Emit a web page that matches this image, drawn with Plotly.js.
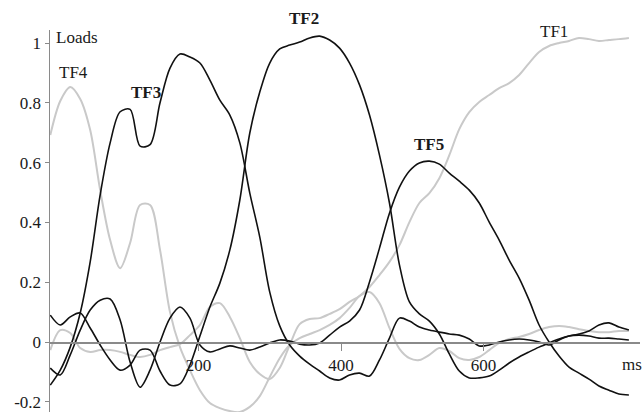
<!DOCTYPE html>
<html><head><meta charset="utf-8">
<script src="https://cdn.plot.ly/plotly-3.0.1.min.js"></script>
<style>html,body{margin:0;padding:0;background:#fff}</style>
</head><body><div id="chart" style="width:643px;height:415px"></div>
<script>
// Time (ms)
const ms = [-8, 6, 20, 34, 48, 62, 76, 90, 104, 118, 132, 146, 160, 174, 188, 202, 216, 230, 244, 258,
  272, 286, 300, 314, 328, 342, 356, 370, 384, 398, 412, 426, 440, 454, 468, 482, 496, 510, 524, 538,
  552, 566, 580, 594, 608, 622, 636, 650, 664, 678, 692, 706, 720, 734, 748, 762, 776, 790, 804];

// Factor loadings
const tf1 = [-0.027, 0.040, 0.030, -0.020, -0.033, -0.027, -0.027, -0.033, -0.043, -0.050,
  -0.043, -0.027, -0.017, -0.007, 0.023, 0.057, 0.117, 0.130, 0.084, 0.013,
  -0.067, -0.107, -0.124, -0.087, -0.010, 0.060, 0.077, 0.080, 0.094, 0.110,
  0.134, 0.154, 0.184, 0.224, 0.268, 0.324, 0.401, 0.465, 0.498, 0.548,
  0.625, 0.712, 0.769, 0.803, 0.826, 0.849, 0.866, 0.893, 0.933, 0.970,
  0.990, 1.000, 1.007, 1.017, 1.013, 1.007, 1.010, 1.013, 1.017];

const tf2 = [0.090, 0.057, 0.084, 0.097, 0.047, -0.010, -0.060, -0.094, -0.077, -0.027,
  -0.027, -0.097, -0.144, -0.140, -0.077, 0.020, 0.117, 0.197, 0.308, 0.475,
  0.699, 0.836, 0.933, 0.980, 0.993, 1.003, 1.017, 1.023, 1.010, 0.983,
  0.933, 0.860, 0.759, 0.625, 0.465, 0.258, 0.134, 0.094, 0.070, 0.027,
  -0.040, -0.097, -0.120, -0.120, -0.114, -0.094, -0.070, -0.050, -0.033, -0.017,
  -0.003, 0.010, 0.020, 0.027, 0.037, 0.057, 0.064, 0.050, 0.040];

const tf3 = [-0.144, -0.094, -0.017, 0.097, 0.268, 0.492, 0.666, 0.770, 0.778, 0.655,
  0.660, 0.800, 0.916, 0.963, 0.953, 0.933, 0.876, 0.809, 0.759, 0.666,
  0.498, 0.351, 0.167, 0.054, -0.010, -0.047, -0.074, -0.097, -0.120, -0.127,
  -0.110, -0.104, -0.114, -0.060, 0.013, 0.080, 0.070, 0.050, 0.040, 0.033,
  0.027, 0.023, 0.010, -0.013, -0.010, 0.000, 0.007, 0.010, 0.007, 0.000,
  -0.010, 0.007, 0.020, 0.023, 0.020, 0.013, 0.013, 0.010, 0.007];

const tf4 = [0.692, 0.806, 0.853, 0.813, 0.709, 0.508, 0.341, 0.247, 0.331, 0.458,
  0.458, 0.308, 0.100, -0.017, -0.094, -0.161, -0.204, -0.221, -0.231, -0.234,
  -0.217, -0.181, -0.117, -0.054, -0.010, 0.013, 0.027, 0.040, 0.057, 0.080,
  0.114, 0.154, 0.167, 0.130, 0.047, -0.023, -0.054, -0.060, -0.043, -0.020,
  -0.030, -0.054, -0.060, -0.050, -0.027, -0.003, 0.010, 0.017, 0.027, 0.040,
  0.050, 0.054, 0.050, 0.043, 0.037, 0.033, 0.033, 0.037, 0.037];

const tf5 = [-0.087, -0.110, -0.043, 0.040, 0.107, 0.140, 0.144, 0.074, -0.067, -0.151,
  -0.094, 0.000, 0.080, 0.117, 0.080, -0.010, -0.033, -0.023, -0.013, -0.020,
  -0.027, -0.017, -0.003, 0.007, 0.003, -0.007, -0.010, -0.003, 0.023, 0.050,
  0.070, 0.107, 0.201, 0.314, 0.431, 0.518, 0.572, 0.599, 0.605, 0.595,
  0.565, 0.538, 0.508, 0.465, 0.401, 0.341, 0.274, 0.214, 0.140, 0.057,
  0.000, -0.047, -0.084, -0.104, -0.124, -0.147, -0.161, -0.174, -0.177];

const yTicks = [-0.2, 0, 0.2, 0.4, 0.6, 0.8, 1];
const yTickText = ['-0.2', '0', '0.2', '0.4', '0.6', '0.8', '1'];
const xTicks = [200, 400, 600];

const GRAY = '#c9c9c9', BLACK = '#111111';
const FONT = '"Liberation Serif", serif';
function tr(y, color, w) {
  return {x: ms, y: y, type: 'scatter', mode: 'lines',
    line: {color: color, width: w, shape: 'spline', smoothing: 0.9}, hoverinfo: 'skip'};
}
const data = [tr(tf1, GRAY, 2), tr(tf4, GRAY, 2), tr(tf2, BLACK, 1.6), tr(tf3, BLACK, 1.6), tr(tf5, BLACK, 1.6)];

const yMin = -0.234, yMax = 1.0435;
function ann(x, y, text, bold, xa, yref) {
  return {x: x, y: y, xref: 'x', yref: yref || 'y', text: bold ? '<b>' + text + '</b>' : text,
    showarrow: false, xanchor: xa || 'center', yanchor: 'middle',
    font: {family: FONT, size: 17, color: '#1a1a1a'}};
}
const layout = {
  width: 643, height: 415,
  margin: {l: 50, r: 3, t: 30, b: 3},
  paper_bgcolor: '#fff', plot_bgcolor: '#fff',
  showlegend: false,
  font: {family: FONT, size: 17, color: '#1a1a1a'},
  xaxis: {range: [-8.4, 819.6], anchor: 'free', position: (0 - yMin) / (yMax - yMin),
    showline: true, linecolor: '#8a8a8a', linewidth: 1.5,
    ticks: 'outside', ticklen: 7, tickcolor: '#8a8a8a', tickwidth: 1,
    tickvals: xTicks, showgrid: false, zeroline: false,
    tickfont: {family: FONT, size: 17, color: '#1a1a1a'}},
  yaxis: {range: [yMin, yMax], showline: true, linecolor: '#8a8a8a', linewidth: 1.5,
    ticks: 'outside', ticklen: 4, tickcolor: '#8a8a8a',
    tickvals: yTicks, ticktext: yTickText, showgrid: false, zeroline: false,
    tickfont: {family: FONT, size: 17, color: '#1a1a1a'}},
  annotations: [
    ann(-3, 1.020, 'Loads', false, 'left'),
    ann(24, 0.903, 'TF4', false),
    ann(126, 0.836, 'TF3', true),
    ann(348, 1.031, 'TF2', true, 'center', 'paper'),
    ann(523, 0.659, 'TF5', true),
    ann(699, 1.037, 'TF1', false),
    ann(808, -0.074, 'ms', false)
  ]
};
Plotly.newPlot('chart', data, layout, {staticPlot: true, displayModeBar: false});
</script></body></html>
